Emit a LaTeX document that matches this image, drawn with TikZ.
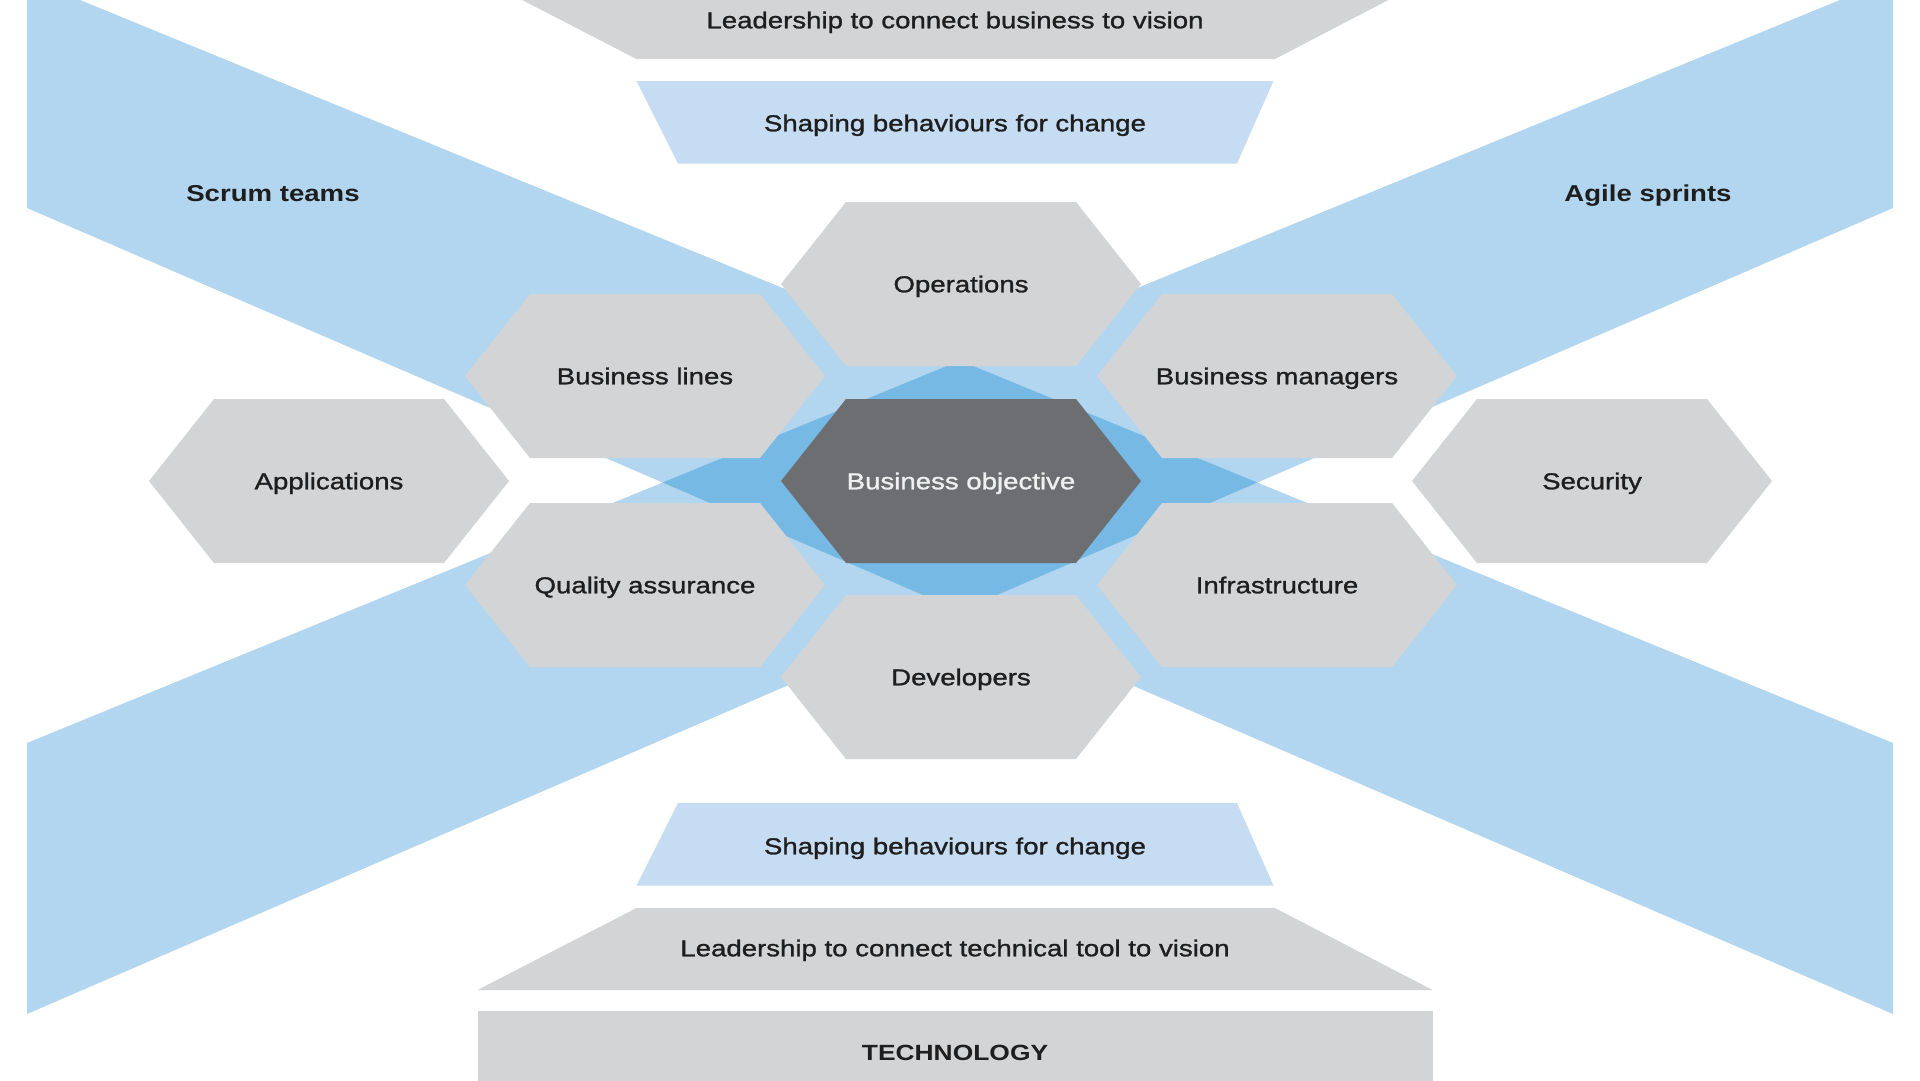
\documentclass[tikz,border=0pt]{standalone}
\usepackage{fontspec}
\setmainfont{Liberation Sans}[FakeStretch=1.2, FakeBold=1.2]
\newfontfamily\headfont{Liberation Sans}[FakeStretch=1.2]
\usetikzlibrary{positioning}

\definecolor{bandblue}{HTML}{B2D6EF}
\definecolor{crossblue}{HTML}{75B9E4}
\definecolor{shapeblue}{HTML}{C5DCF2}
\definecolor{cellgray}{HTML}{D3D4D6}
\definecolor{coregray}{HTML}{6D6E71}
\definecolor{inktext}{HTML}{1E1E1E}

\begin{document}
\begin{tikzpicture}[
    x=1pt, y=-1pt,
    font=\fontsize{23}{27}\selectfont,
    celltext/.style={
        text=inktext, inner sep=0pt,
        text height=16.5pt, text depth=0pt
    },
    coretext/.style={celltext, text=white!94!black},
    lanetext/.style={celltext, font=\headfont\fontsize{23}{27}\selectfont\bfseries},
    techtext/.style={celltext, font=\headfont\fontsize{22}{26}\selectfont\bfseries}
]

% ===== CANVAS =====
\useasboundingbox (0,0) rectangle (1920,1080);
\clip (0,0) rectangle (1920,1080);
\fill[white] (0,0) rectangle (1920,1080);

% ===== CROSSING BANDS =====
\fill[bandblue] (27,0) -- (80,0) -- (1893,743) -- (1893,1014) -- (27,208) -- cycle;
\fill[bandblue] (1893,0) -- (1840,0) -- (27,743) -- (27,1014) -- (1893,208) -- cycle;
\begin{scope}
    \clip (27,0) -- (80,0) -- (1893,743) -- (1893,1014) -- (27,208) -- cycle;
    \fill[crossblue] (1893,0) -- (1840,0) -- (27,743) -- (27,1014) -- (1893,208) -- cycle;
\end{scope}

\node[lanetext] (scrum) at (273,193) {Scrum teams};
\node[lanetext] (agile) at (1648,193) {Agile sprints};

% ===== TOP LAYERS =====
\fill[cellgray] (477.5,-23) -- (1432.5,-23) -- (1275,59) -- (636.5,59) -- cycle;
\node[celltext] (leadtop) at (955,20) {Leadership to connect business to vision};

\fill[shapeblue] (636.5,81) -- (1273.5,81) -- (1237,163.5) -- (678,163.5) -- cycle;
\node[celltext] (shapetop) at (955,123) {Shaping behaviours for change};

% ===== HEXAGON CELLS =====
\foreach \cell/\cx/\cy/\txt in {
    ops/961/284/Operations,
    blines/645/376/Business lines,
    bman/1277/376/Business managers,
    apps/329/481/Applications,
    sec/1592/481/Security,
    qa/645/585/Quality assurance,
    infra/1277/585/Infrastructure,
    devs/961/677/Developers}
{
    \fill[cellgray] (\cx,\cy) ++(-180,0) -- ++(65,-82) -- ++(230,0)
        -- ++(65,82) -- ++(-65,82) -- ++(-230,0) -- cycle;
    \node[celltext] (\cell) at (\cx,\cy) {\txt};
}

\fill[coregray] (961,481) ++(-180,0) -- ++(65,-82) -- ++(230,0)
    -- ++(65,82) -- ++(-65,82) -- ++(-230,0) -- cycle;
\node[coretext] (core) at (961,481) {Business objective};

% ===== BOTTOM LAYERS =====
\fill[shapeblue] (678,803) -- (1237,803) -- (1273.5,885.5) -- (636.5,885.5) -- cycle;
\node[celltext] (shapebot) at (955,846) {Shaping behaviours for change};

\fill[cellgray] (636.5,908) -- (1275,908) -- (1432.5,990) -- (477.5,990) -- cycle;
\node[celltext] (leadbot) at (955,948) {Leadership to connect technical tool to vision};

\fill[cellgray] (477.5,1011) rectangle (1432.5,1093);
\node[techtext] (tech) at (955,1052) {TECHNOLOGY};

\end{tikzpicture}
\end{document}
